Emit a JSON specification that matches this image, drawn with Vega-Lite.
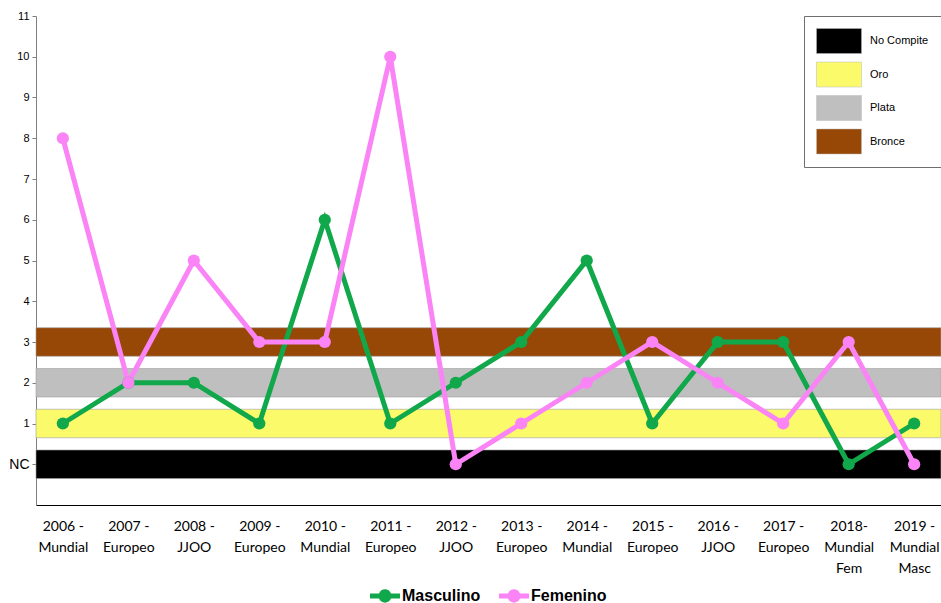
{
  "$schema": "https://vega.github.io/schema/vega-lite/v6.json",
  "width": 905,
  "height": 489,
  "padding": {"left": 8, "top": 10, "right": 0, "bottom": 0},
  "background": "white",
  "config": {
    "view": {"stroke": null},
    "font": "Liberation Sans",
    "legend": {"layout": {"bottom": {"anchor": "middle"}}}
  },
  "datasets": {
    "bands": [
      {"medalla": "No Compite", "lo": -0.35, "hi": 0.35},
      {"medalla": "Oro", "lo": 0.65, "hi": 1.35},
      {"medalla": "Plata", "lo": 1.65, "hi": 2.35},
      {"medalla": "Bronce", "lo": 2.65, "hi": 3.35}
    ],
    "results": [
      {"evento": "2006 -|Mundial", "equipo": "Masculino", "puesto": 1},
      {"evento": "2007 -|Europeo", "equipo": "Masculino", "puesto": 2},
      {"evento": "2008 -|JJOO", "equipo": "Masculino", "puesto": 2},
      {"evento": "2009 -|Europeo", "equipo": "Masculino", "puesto": 1},
      {"evento": "2010 -|Mundial", "equipo": "Masculino", "puesto": 6},
      {"evento": "2011 -|Europeo", "equipo": "Masculino", "puesto": 1},
      {"evento": "2012 -|JJOO", "equipo": "Masculino", "puesto": 2},
      {"evento": "2013 -|Europeo", "equipo": "Masculino", "puesto": 3},
      {"evento": "2014 -|Mundial", "equipo": "Masculino", "puesto": 5},
      {"evento": "2015 -|Europeo", "equipo": "Masculino", "puesto": 1},
      {"evento": "2016 -|JJOO", "equipo": "Masculino", "puesto": 3},
      {"evento": "2017 -|Europeo", "equipo": "Masculino", "puesto": 3},
      {"evento": "2018-|Mundial|Fem", "equipo": "Masculino", "puesto": 0},
      {"evento": "2019 -|Mundial|Masc", "equipo": "Masculino", "puesto": 1},
      {"evento": "2006 -|Mundial", "equipo": "Femenino", "puesto": 8},
      {"evento": "2007 -|Europeo", "equipo": "Femenino", "puesto": 2},
      {"evento": "2008 -|JJOO", "equipo": "Femenino", "puesto": 5},
      {"evento": "2009 -|Europeo", "equipo": "Femenino", "puesto": 3},
      {"evento": "2010 -|Mundial", "equipo": "Femenino", "puesto": 3},
      {"evento": "2011 -|Europeo", "equipo": "Femenino", "puesto": 10},
      {"evento": "2012 -|JJOO", "equipo": "Femenino", "puesto": 0},
      {"evento": "2013 -|Europeo", "equipo": "Femenino", "puesto": 1},
      {"evento": "2014 -|Mundial", "equipo": "Femenino", "puesto": 2},
      {"evento": "2015 -|Europeo", "equipo": "Femenino", "puesto": 3},
      {"evento": "2016 -|JJOO", "equipo": "Femenino", "puesto": 2},
      {"evento": "2017 -|Europeo", "equipo": "Femenino", "puesto": 1},
      {"evento": "2018-|Mundial|Fem", "equipo": "Femenino", "puesto": 3},
      {"evento": "2019 -|Mundial|Masc", "equipo": "Femenino", "puesto": 0}
    ]
  },
  "layer": [
    {
      "data": {"name": "bands"},
      "mark": {"type": "rect", "stroke": "#a0a0a0", "strokeWidth": 0.6},
      "encoding": {
        "y": {"field": "lo", "type": "quantitative", "scale": {"domain": [-1, 11], "nice": false, "zero": false}},
        "y2": {"field": "hi"},
        "color": {
          "field": "medalla",
          "type": "nominal",
          "sort": null,
          "scale": {
            "domain": ["No Compite", "Oro", "Plata", "Bronce"],
            "range": ["#000000", "#fafa6a", "#bfbfbf", "#974806"]
          },
          "legend": {
            "title": null,
            "orient": "top-right",
            "offset": 0,
            "padding": 12,
            "strokeColor": "#6f6f6f",
            "fillColor": "white",
            "symbolType": "M-1,-1L2.6,-1L2.6,1L-1,1Z",
            "symbolSize": 625,
            "symbolStrokeWidth": 0.5,
            "symbolStrokeColor": "#bbbbbb",
            "symbolOpacity": 1,
            "rowPadding": 5.5,
            "labelOffset": 28,
            "labelFont": "Liberation Sans",
            "labelFontSize": 11,
            "labelColor": "#000000",
            "labelLimit": 200
          }
        }
      }
    },
    {
      "data": {"name": "results"},
      "mark": {
        "type": "line",
        "strokeWidth": 5,
        "point": {"filled": true, "size": 150, "opacity": 1}
      },
      "encoding": {
        "x": {
          "field": "evento",
          "type": "nominal",
          "sort": null,
          "scale": {"type": "point", "padding": 0.41},
          "axis": {
            "title": null,
            "labelAngle": 0,
            "labelExpr": "split(datum.value, '|')",
            "labelFont": "Lato",
            "labelFontSize": 14,
            "labelLineHeight": 21,
            "labelColor": "#000000",
            "labelPadding": 14,
            "ticks": false,
            "domainColor": "#000000",
            "domainWidth": 1,
            "labelLimit": 200
          }
        },
        "y": {
          "field": "puesto",
          "type": "quantitative",
          "axis": {
            "title": null,
            "values": [0, 1, 2, 3, 4, 5, 6, 7, 8, 9, 10, 11],
            "labelExpr": "datum.value == 0 ? 'NC' : datum.value",
            "grid": false,
            "domainColor": "#7f7f7f",
            "tickColor": "#7f7f7f",
            "tickSize": 4,
            "labelPadding": 3,
            "labelFont": "Liberation Sans",
            "labelFontSize": {"condition": {"test": "datum.value == 0", "value": 14}, "value": 11},
            "labelColor": "#000000"
          }
        },
        "color": {
          "field": "equipo",
          "type": "nominal",
          "sort": null,
          "scale": {"domain": ["Masculino", "Femenino"], "range": ["#10a84a", "#fa84f6"]},
          "legend": {
            "title": null,
            "orient": "bottom",
            "direction": "horizontal",
            "offset": 6,
            "symbolType": "M-1,-0.17L-0.4,-0.17A0.43,0.43 0 0,1 0.4,-0.17L1,-0.17L1,0.17L0.4,0.17A0.43,0.43 0 0,1 -0.4,0.17L-1,0.17Z",
            "symbolSize": 900,
            "symbolStrokeWidth": 0,
            "symbolOpacity": 1,
            "labelFont": "Liberation Sans",
            "labelFontSize": 16,
            "labelFontWeight": "bold",
            "labelColor": "#000000",
            "labelOffset": 2,
            "columnPadding": 18
          }
        }
      }
    }
  ],
  "resolve": {"scale": {"color": "independent"}}
}
